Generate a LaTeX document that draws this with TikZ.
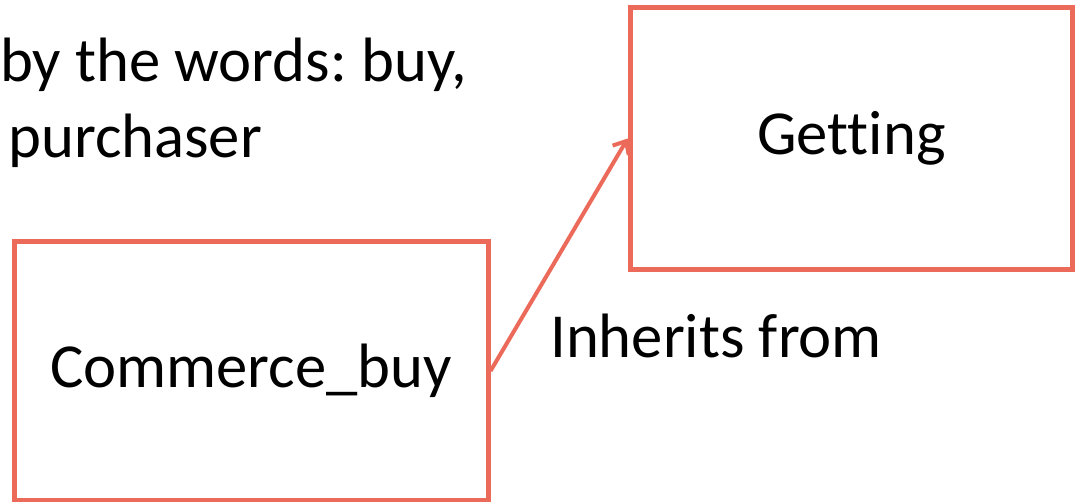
\documentclass[tikz,border=0pt]{standalone}
\usepackage{fontspec}
\setmainfont[Ligatures=NoCommon]{Carlito}
\usetikzlibrary{
  arrows.meta,
  positioning,
}
\definecolor{framered}{RGB}{236,106,90}
\tikzset{
  frame/.style={draw=framered, line width=3.75pt, inner sep=0pt, font=\fontsize{47}{56}\selectfont},
  words/.style={inner sep=0pt, anchor=base west, font=\fontsize{47}{56}\selectfont},
}
\frenchspacing

\begin{document}
\begin{tikzpicture}[x=0.75pt, y=-0.75pt]
    \useasboundingbox (0,0) rectangle (1078,502);
    \node [frame, minimum width=332pt, minimum height=196pt] (G) at (851.5,138.5) {Getting};
    \node [frame, minimum width=355.5pt, minimum height=193.5pt] (C) at (251,371) {Commerce\_buy};
    \node [words] (W1) at (0,82) {by the words: buy,};
    \node [words] (W2) at (8,158) {purchaser};
    \node [words] (L) at (550,357) {Inherits from};
    \draw [framered, line width=3pt, -{Straight Barb[length=8pt,width=14pt]}] (C.east) to (G.west);
  \end{tikzpicture}
\end{document}
